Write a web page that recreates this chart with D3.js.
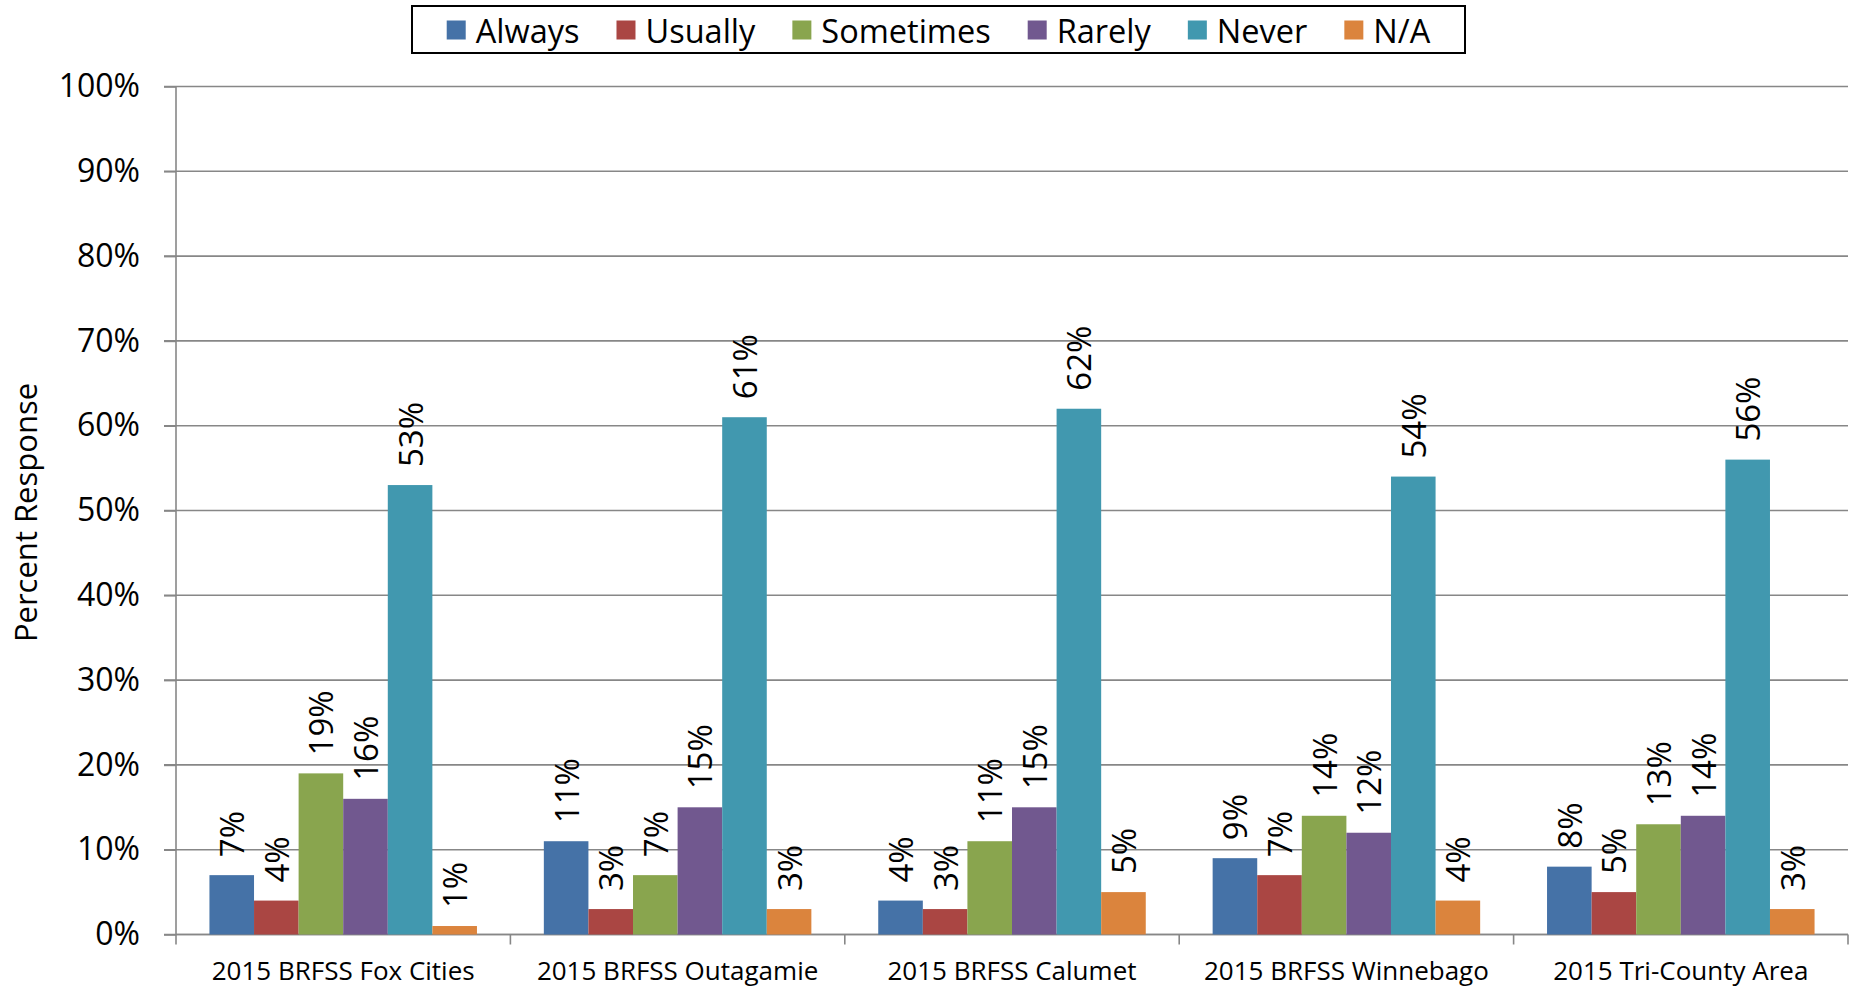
<!DOCTYPE html>
<html>
<head>
<meta charset="utf-8">
<script src="https://cdn.jsdelivr.net/npm/d3@7"></script>
<style>
  html, body { margin: 0; padding: 0; background: #fff; }
  svg { display: block; font-family: "Open Sans", "Noto Sans", sans-serif; }
</style>
</head>
<body>
<svg id="chart" width="1856" height="988"></svg>
<script>
const categories = ["2015 BRFSS Fox Cities", "2015 BRFSS Outagamie", "2015 BRFSS Calumet", "2015 BRFSS Winnebago", "2015 Tri-County Area"];
const seriesNames = ["Always", "Usually", "Sometimes", "Rarely", "Never", "N/A"];
const seriesColors = ["#4572A7", "#AA4643", "#89A54E", "#71588F", "#4198AF", "#DB843D"];
const always    = [7, 11, 4, 9, 8];
const usually   = [4, 3, 3, 7, 5];
const sometimes = [19, 7, 11, 14, 13];
const rarely    = [16, 15, 15, 12, 14];
const never     = [53, 61, 62, 54, 56];
const na        = [1, 3, 5, 4, 3];
const yTicks = [0, 10, 20, 30, 40, 50, 60, 70, 80, 90, 100];
const yTitle = "Percent Response";

const seriesValues = [always, usually, sometimes, rarely, never, na];

const svg = d3.select("#chart");
const plot = { left: 176, right: 1848, top: 86.5, bottom: 934.5 };
const gridColor = "#878787";

const x0 = d3.scaleBand().domain(categories).range([plot.left, plot.right]).paddingInner(0).paddingOuter(0);
// Excel gap width 150%: each category = 6 bars + 1.5 bar gap
const barW = x0.bandwidth() / 7.5;
const x1 = d3.scaleBand().domain(seriesNames).range([barW * 0.75, barW * 0.75 + barW * 6]).padding(0);
const y = d3.scaleLinear().domain([0, 100]).range([plot.bottom, plot.top]);

// gridlines
svg.append("g").selectAll("line").data(yTicks).join("line")
  .attr("x1", plot.left - 12).attr("x2", plot.right)
  .attr("y1", d => y(d)).attr("y2", d => y(d))
  .attr("stroke", gridColor).attr("stroke-width", 1.6);

// y axis
const yAxis = d3.axisLeft(y).tickValues(yTicks).tickFormat(d => d + "%").tickSize(12).tickPadding(24);
const yg = svg.append("g").attr("transform", `translate(${plot.left},0)`).call(yAxis);
yg.select(".domain").remove();
yg.selectAll(".tick line").attr("stroke", gridColor).attr("stroke-width", 1.6);
yg.selectAll(".tick text").attr("font-size", 32).attr("fill", "#000").attr("font-family", "Open Sans");
svg.append("line").attr("x1", plot.left).attr("x2", plot.left).attr("y1", plot.top).attr("y2", plot.bottom)
  .attr("stroke", gridColor).attr("stroke-width", 1.6);

// x axis
const xg = svg.append("g").attr("transform", `translate(0,${plot.bottom})`);
xg.append("line").attr("x1", plot.left).attr("x2", plot.right).attr("y1", 0).attr("y2", 0)
  .attr("stroke", gridColor).attr("stroke-width", 1.6);
const boundaries = categories.map(c => x0(c)).concat([plot.right]);
xg.selectAll("line.tk").data(boundaries).join("line").attr("class", "tk")
  .attr("x1", d => d).attr("x2", d => d).attr("y1", 0).attr("y2", 10)
  .attr("stroke", gridColor).attr("stroke-width", 1.6);
xg.selectAll("text").data(categories).join("text")
  .attr("x", d => x0(d) + x0.bandwidth() / 2).attr("y", 45)
  .attr("text-anchor", "middle").attr("font-size", 26).attr("fill", "#000")
  .text(d => d);

// bars
const groups = svg.append("g").selectAll("g").data(categories).join("g")
  .attr("transform", d => `translate(${x0(d)},0)`);
groups.each(function(cat, ci) {
  const g = d3.select(this);
  const rows = seriesNames.map((s, si) => ({ s, si, v: seriesValues[si][ci] }));
  g.selectAll("rect").data(rows).join("rect")
    .attr("x", d => x1(d.s)).attr("width", x1.bandwidth())
    .attr("y", d => y(d.v)).attr("height", d => y(0) - y(d.v))
    .attr("fill", d => seriesColors[d.si]);
  g.selectAll("text").data(rows).join("text")
    .attr("transform", d => `translate(${x1(d.s) + x1.bandwidth() / 2},${y(d.v) - 18}) rotate(-90)`)
    .attr("text-anchor", "start").attr("dominant-baseline", "central")
    .attr("font-size", 33).attr("fill", "#000")
    .text(d => d.v + "%");
});

// y title
svg.append("text").attr("transform", `translate(25,${(plot.top + plot.bottom) / 2 + 2}) rotate(-90)`)
  .attr("text-anchor", "middle").attr("dominant-baseline", "central")
  .attr("font-size", 31).attr("fill", "#000").text(yTitle);

// legend
const legend = svg.append("g");
const box = { x: 412, y: 6, w: 1053, h: 47 };
legend.append("rect").attr("x", box.x).attr("y", box.y).attr("width", box.w).attr("height", box.h)
  .attr("fill", "#fff").attr("stroke", "#000").attr("stroke-width", 2);
const items = legend.selectAll("g").data(seriesNames).join("g");
items.append("rect").attr("width", 19).attr("height", 19).attr("y", -9.5)
  .attr("fill", (d, i) => seriesColors[i]);
items.append("text").attr("x", 29).attr("y", 0).attr("dominant-baseline", "central")
  .attr("font-size", 32.5).attr("fill", "#000").text(d => d);
const widths = [];
items.each(function() { widths.push(29 + d3.select(this).select("text").node().getComputedTextLength()); });
const gap = 37;
const total = d3.sum(widths) + gap * (widths.length - 1);
let cx = box.x + (box.w - total) / 2;
items.each(function(d, i) {
  d3.select(this).attr("transform", `translate(${cx},${box.y + box.h / 2 + 0.5})`);
  cx += widths[i] + gap;
});
</script>
</body>
</html>
